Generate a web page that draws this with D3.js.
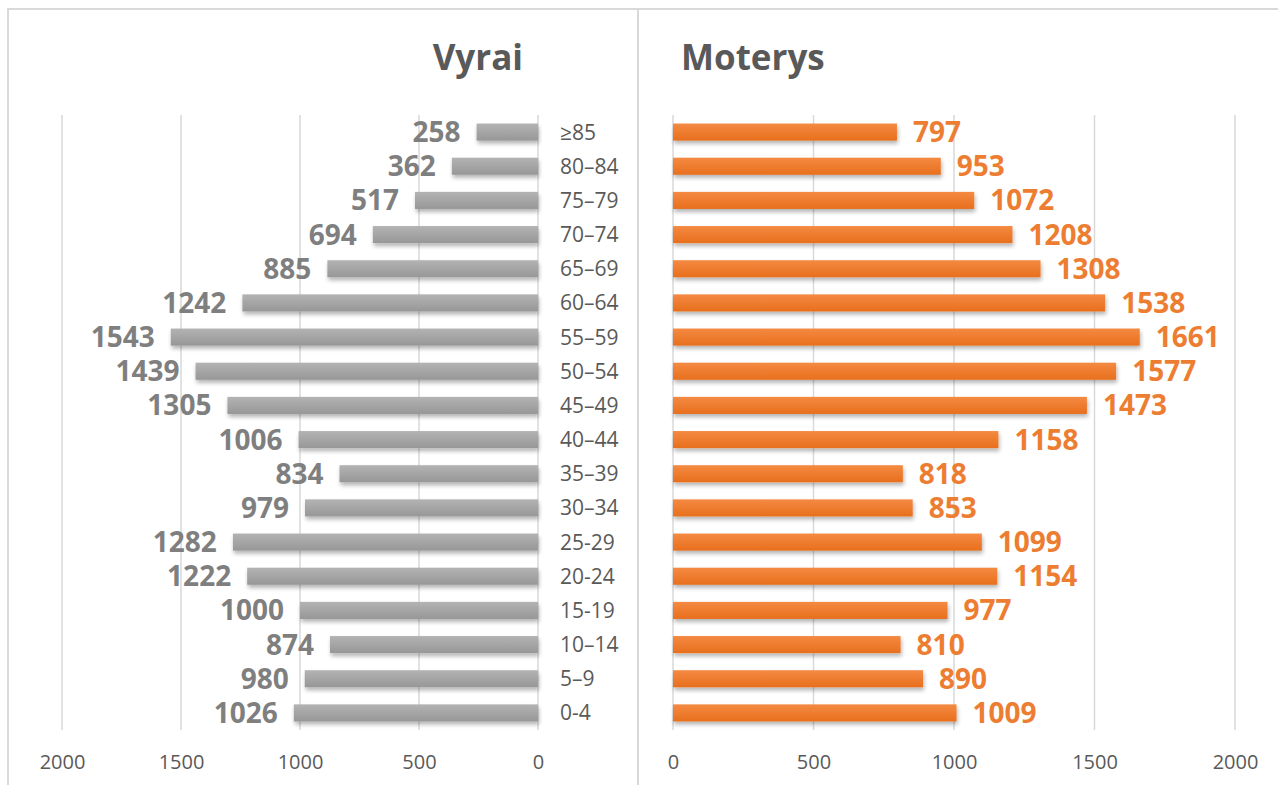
<!DOCTYPE html>
<html><head><meta charset="utf-8">
<script src="https://cdn.jsdelivr.net/npm/d3@7"></script>
<style>body{margin:0;background:#fff}svg{display:block}</style>
</head><body><svg id="c" width="1278" height="785"></svg>
<script>
const categories = ["0-4","5–9","10–14","15-19","20-24","25-29","30–34","35–39","40–44","45–49","50–54","55–59","60–64","65–69","70–74","75–79","80–84","≥85"];
const men   = [1026,980,874,1000,1222,1282,979,834,1006,1305,1439,1543,1242,885,694,517,362,258];
const women = [1009,890,810,977,1154,1099,853,818,1158,1473,1577,1661,1538,1308,1208,1072,953,797];
const ticks = [0,500,1000,1500,2000];
const titles = ["Vyrai","Moterys"];

const svg = d3.select("#c");
const FONT = "'Open Sans', 'Noto Sans', sans-serif";
const defs = svg.append("defs");
function grad(id, top, bot){
  const g = defs.append("linearGradient").attr("id",id).attr("x1",0).attr("y1",0).attr("x2",0).attr("y2",1);
  g.append("stop").attr("offset","0%").attr("stop-color",top);
  g.append("stop").attr("offset","100%").attr("stop-color",bot);
}
grad("gGray","#b3b3b3","#979797");
grad("gOrange","#f48a42","#e86f1d");
const f = defs.append("filter").attr("id","sh").attr("x","-5%").attr("y","-40%").attr("width","110%").attr("height","200%");
f.append("feGaussianBlur").attr("in","SourceAlpha").attr("stdDeviation",2);
f.append("feOffset").attr("dx",1).attr("dy",3).attr("result","b");
f.append("feComponentTransfer").append("feFuncA").attr("type","linear").attr("slope",0.3);
const m = f.append("feMerge"); m.append("feMergeNode"); m.append("feMergeNode").attr("in","SourceGraphic");

// frames
svg.append("rect").attr("x",8).attr("y",9).attr("width",630).attr("height",790).attr("fill","none").attr("stroke","#d9d9d9").attr("stroke-width",2);
svg.append("rect").attr("x",638).attr("y",9).attr("width",700).attr("height",790).attr("fill","none").attr("stroke","#d9d9d9").attr("stroke-width",2);

const y = d3.scaleBand().domain(categories).range([730,115]).paddingInner(0.5).paddingOuter(0.25);
const xL = d3.scaleLinear().domain([0,2000]).range([538,62]);
const xR = d3.scaleLinear().domain([0,2000]).range([673,1235]);

function panel(x, data, fill, labelColor, side){
  const g = svg.append("g");
  g.selectAll("line.grid").data(ticks).join("line")
    .attr("x1",d=>x(d)).attr("x2",d=>x(d)).attr("y1",115).attr("y2",730)
    .attr("stroke","#d9d9d9").attr("stroke-width",1.5);
  g.selectAll("rect.bar").data(data).join("rect")
    .attr("x",d=>Math.min(x(0),x(d))).attr("width",d=>Math.abs(x(d)-x(0)))
    .attr("y",(d,i)=>y(categories[i])).attr("height",y.bandwidth())
    .attr("fill",fill).attr("filter","url(#sh)");
  g.selectAll("text.val").data(data).join("text")
    .attr("x",d=>x(d) + (side<0 ? -16 : 16))
    .attr("y",(d,i)=>y(categories[i])+y.bandwidth()/2)
    .attr("dy","0.36em").attr("text-anchor",side<0?"end":"start")
    .attr("font-family",FONT).attr("font-weight",700).attr("font-size",28)
    .attr("fill",labelColor).text(d=>d);
  const ax = g.append("g").attr("transform","translate(0,762)")
    .call(d3.axisBottom(x).tickValues(ticks).tickFormat(d3.format("d")).tickSize(0).tickPadding(0));
  ax.select(".domain").remove();
  ax.selectAll("text").attr("font-family",FONT).attr("font-size",20).attr("fill","#595959").attr("dy","0.36em");
}
panel(xL, men, "url(#gGray)", "#7f7f7f", -1);
panel(xR, women, "url(#gOrange)", "#ed7d31", 1);

svg.append("g").selectAll("text").data(categories).join("text")
  .attr("x",560).attr("y",d=>y(d)+y.bandwidth()/2).attr("dy","0.36em")
  .attr("font-family",FONT).attr("font-size",21).attr("fill","#595959").text(d=>d);

svg.append("text").attr("x",523).attr("y",57).attr("dy","0.36em").attr("text-anchor","end")
  .attr("font-family",FONT).attr("font-weight",700).attr("font-size",35).attr("fill","#595959").text(titles[0]);
svg.append("text").attr("x",681).attr("y",57).attr("dy","0.36em").attr("text-anchor","start")
  .attr("font-family",FONT).attr("font-weight",700).attr("font-size",35).attr("fill","#595959").text(titles[1]);
</script></body></html>
